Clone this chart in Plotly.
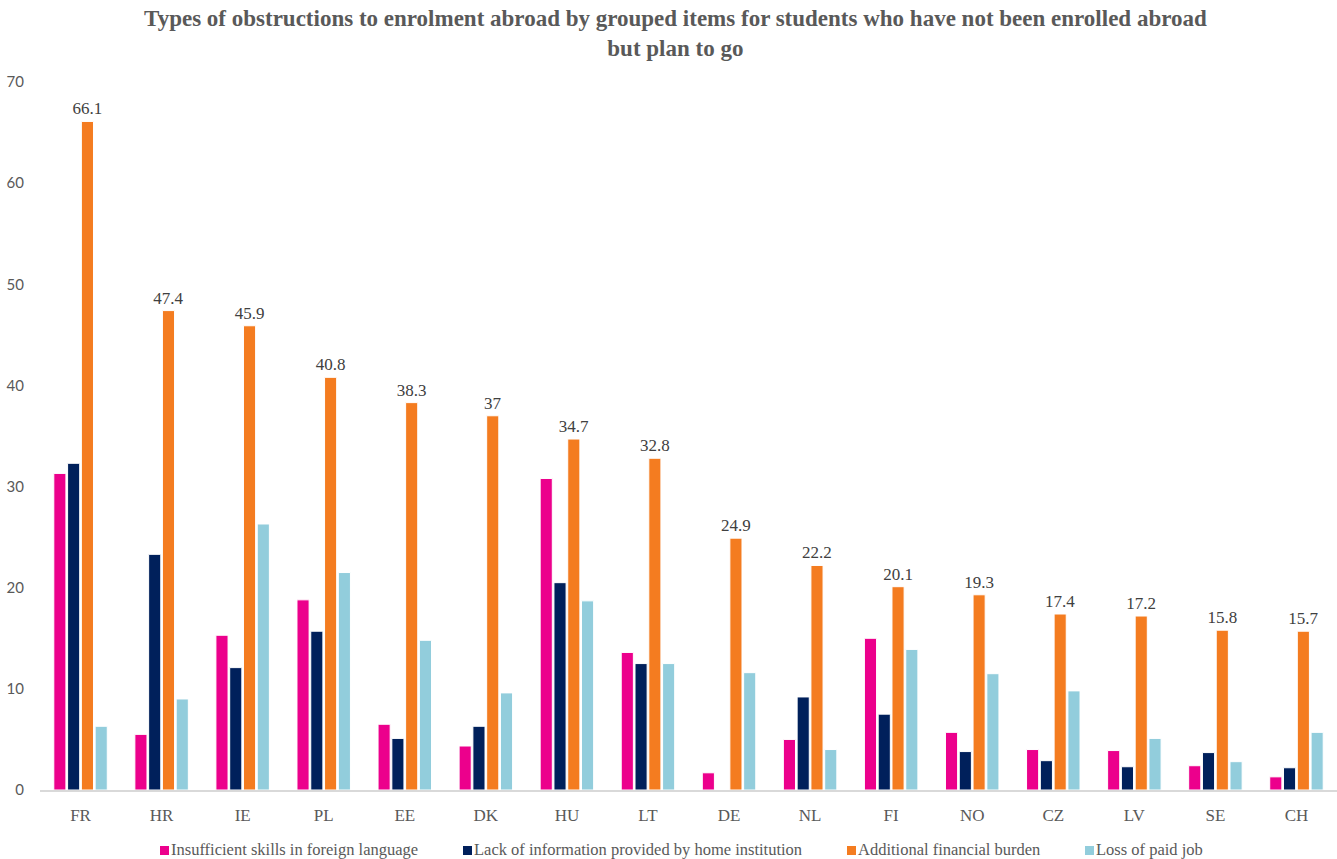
import plotly.graph_objects as go

countries = ["FR", "HR", "IE", "PL", "EE", "DK", "HU", "LT", "DE", "NL", "FI", "NO", "CZ", "LV", "SE", "CH"]
language = [31.3, 5.5, 15.3, 18.8, 6.5, 4.35, 30.8, 13.6, 1.7, 5.0, 15.0, 5.7, 4.0, 3.9, 2.4, 1.3]
information = [32.3, 23.3, 12.1, 15.7, 5.1, 6.3, 20.5, 12.5, 0, 9.2, 7.5, 3.8, 2.9, 2.3, 3.7, 2.2]
financial = [66.1, 47.4, 45.9, 40.8, 38.3, 37, 34.7, 32.8, 24.9, 22.2, 20.1, 19.3, 17.4, 17.2, 15.8, 15.7]
paid_job = [6.3, 9.0, 26.3, 21.5, 14.8, 9.6, 18.7, 12.5, 11.6, 4.0, 13.9, 11.5, 9.8, 5.1, 2.8, 5.7]

series_names = [
    "Insufficient skills in foreign language",
    "Lack of information provided by home institution",
    "Additional financial burden",
    "Loss of paid job",
]
colors = ["#EC008C", "#00205B", "#F47C20", "#92CDDC"]
serif = "Liberation Serif"
title_text = ("Types of obstructions to enrolment abroad by grouped items for students who have not been enrolled abroad"
              "<br>but plan to go")

W, H, L, R, T, B = 1337, 859, 40, 0, 82, 69
PW, PH = W - L - R, H - T - B


def px_x(p):
    return (p - L) / PW


def px_y(p):
    return (H - B - p) / PH


fig = go.Figure()
for name, vals, col in zip(series_names, [language, information, financial, paid_job], colors):
    kw = {}
    if name == "Additional financial burden":
        kw = dict(text=[f"{v:g}" for v in vals], textposition="outside", constraintext="none",
                  textfont=dict(family=serif, size=17, color="#404040"), cliponaxis=False)
    fig.add_trace(go.Bar(x=countries, y=vals, name=name, showlegend=False,
                         marker=dict(color=col, line=dict(color="white", width=1)), **kw))

fig.add_annotation(
    text=title_text, xref="paper", yref="paper", x=px_x(675), y=px_y(4),
    xanchor="center", yanchor="top", showarrow=False, align="center",
    font=dict(family=serif, size=23, color="#595959", weight="bold"),
)

# legend at bottom (square swatch + label)
legend_left = [160, 463, 847, 1085]
leg_y = 849
for name, col, x0 in zip(series_names, colors, legend_left):
    fig.add_shape(type="rect", xref="paper", yref="paper",
                  x0=px_x(x0), x1=px_x(x0 + 9), y0=px_y(leg_y + 6), y1=px_y(leg_y - 3),
                  fillcolor=col, line=dict(width=0))
    fig.add_annotation(text=name, xref="paper", yref="paper", x=px_x(x0 + 10), y=px_y(leg_y),
                       xanchor="left", yanchor="middle", showarrow=False, borderpad=0,
                       font=dict(family=serif, size=16.5, color="#595959"))

fig.update_layout(
    width=W, height=H,
    barmode="group", bargap=0.32, bargroupgap=0.12,
    plot_bgcolor="white", paper_bgcolor="white",
    margin=dict(l=L, r=R, t=T, b=B, autoexpand=False),
    xaxis=dict(showgrid=False, showline=True, linecolor="#D9D9D9", linewidth=2, automargin=False,
               tickfont=dict(family=serif, size=17, color="#595959"), ticks="", ticklabelstandoff=9),
    yaxis=dict(range=[0, 70], dtick=10, showgrid=False, zeroline=False, showline=False, automargin=False,
               tickfont=dict(family="Lato", size=15, color="#595959"), ticks="", ticklabelstandoff=15),
    showlegend=False,
)
fig.write_html("out.html", config={"displayModeBar": False},
               post_script="document.body.style.margin='0';document.body.style.overflow='hidden';")
